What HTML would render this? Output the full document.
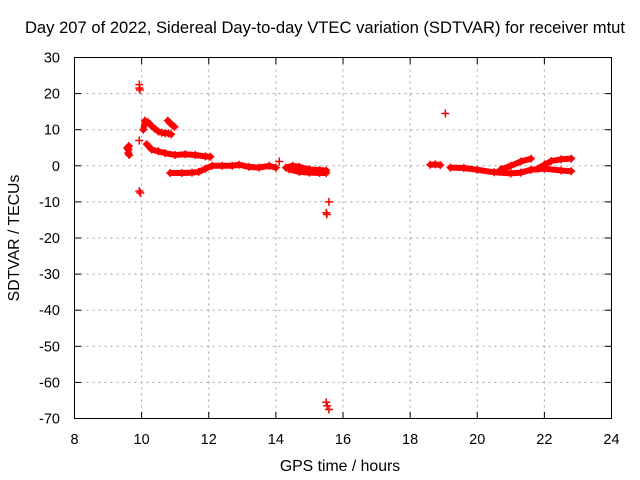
<!DOCTYPE html>
<html><head><meta charset="utf-8"><style>
body{margin:0;background:#fff}
svg{display:block;font-family:"Liberation Sans",sans-serif}
</style></head><body>
<svg id="c" width="640" height="480">
<text x="325" y="33" font-size="16.6" text-anchor="middle" fill="#000">Day 207 of 2022, Sidereal Day-to-day VTEC variation (SDTVAR) for receiver mtut</text>
<text x="340" y="471" font-size="15.8" text-anchor="middle">GPS time / hours</text>
<text transform="translate(19,238) rotate(-90)" font-size="15.8" text-anchor="middle">SDTVAR / TECUs</text>
<g id="grid"></g>
<g id="ticks"></g>
<g id="marks"></g>
<rect x="74.5" y="57.5" width="537" height="361" fill="none" stroke="#000"/>
</svg>
<script>
const xTicks=[8,10,12,14,16,18,20,22,24];
const yTicks=[30,20,10,0,-10,-20,-30,-40,-50,-60,-70];
const tracks=[
 [[9.57,5],[9.6,4.5],[9.62,5.5],[9.6,3.5],[9.63,3]],
 [[10.05,10],[10.1,12.5],[10.2,12],[10.3,11],[10.4,10.2],[10.5,9.5],[10.6,9.2],[10.7,9],[10.8,9],[10.88,8.7]],
 [[10.78,12.5],[10.85,11.8],[10.92,11.2],[10.98,10.8]],
 [[10.15,6],[10.3,4.5],[10.5,4],[10.7,3.5],[11.0,3],[11.3,3.2],[11.6,3],[11.9,2.6],[12.05,2.5]],
 [[10.85,-2],[11.2,-2],[11.5,-1.9],[11.7,-1.7],[11.9,-0.8],[12.1,0],[12.4,0],[12.7,0],[12.9,0.3],[13.2,-0.3],[13.5,-0.5],[13.8,0],[14.0,-0.5]],
 [[14.3,-0.5],[14.5,0],[14.7,-0.3],[15.0,-1.0],[15.3,-1.2],[15.5,-1.3]],
 [[14.4,-1],[14.7,-1.7],[15.0,-1.9],[15.3,-2],[15.5,-2]],
 [[18.6,0.3],[18.75,0.4],[18.9,0.2]],
 [[19.2,-0.5],[19.6,-0.6],[20.0,-1.1],[20.5,-1.8],[21.0,-2.1],[21.3,-1.9],[21.6,-1.1],[22.0,-0.8],[22.5,-1.3],[22.8,-1.5]],
 [[20.7,-1],[21.0,0],[21.3,1.2],[21.6,2]],
 [[21.8,-0.8],[22.0,0.3],[22.2,1.3],[22.5,1.8],[22.8,2]]
];
const singles=[[9.93,22.5],[9.93,21.5],[9.95,21],[9.93,7],[9.93,-7],[9.96,-7.5],[14.1,1.2],[15.58,-10],[15.5,-13],[15.52,-13.5],[15.5,-65.5],[15.53,-66.5],[15.58,-67.5],[19.05,14.5]];
const NS='http://www.w3.org/2000/svg';
const X=v=>74.5+(v-8)*537/16, Y=v=>57.5+(30-v)*361/100;
const g=document.getElementById('grid'),t=document.getElementById('ticks'),m=document.getElementById('marks');
function el(tag,a,p){const e=document.createElementNS(NS,tag);for(const k in a)e.setAttribute(k,a[k]);p.appendChild(e);return e;}
xTicks.forEach(v=>{const x=X(v);
 if(v>8&&v<24){const l=el('line',{x1:x,x2:x,y1:57.5,y2:418.5,stroke:'#a0a0a0','stroke-dasharray':'2,4'},g);
 
 }
 el('line',{x1:x,x2:x,y1:418.5,y2:412,stroke:'#000'},t);el('line',{x1:x,x2:x,y1:57.5,y2:64,stroke:'#000'},t);
 const s=el('text',{x:x,y:444,'font-size':14.5,'text-anchor':'middle'},t);s.textContent=v;
 
 });
yTicks.forEach(v=>{const y=Y(v);
 if(v<30&&v>-70){const l=el('line',{x1:74.5,x2:611.5,y1:y,y2:y,stroke:'#a0a0a0','stroke-dasharray':'2,4'},g);
 
 }
 el('line',{x1:74.5,x2:81,y1:y,y2:y,stroke:'#000'},t);el('line',{x1:611.5,x2:605,y1:y,y2:y,stroke:'#000'},t);
 const s=el('text',{x:60,y:y+5,'font-size':14.5,'text-anchor':'end'},t);s.textContent=v;
 
 });
function plus(p,x,y){el('path',{d:`M${x-4} ${y}h8M${x} ${y-4}v8`,stroke:'#f00','stroke-width':1.5},p);}
tracks.forEach(tr=>{const gg=el('g',{},m);
 
 
 el('polyline',{points:tr.map(p=>X(p[0])+','+Y(p[1])).join(' '),fill:'none',stroke:'#f00','stroke-width':6,'stroke-linejoin':'round','stroke-linecap':'round'},gg);
 tr.forEach(p=>plus(gg,X(p[0]),Y(p[1])));});
singles.forEach(p=>{const gg=el('g',{},m);
 
 
 plus(gg,X(p[0]),Y(p[1]));});
</script>
</body></html>
